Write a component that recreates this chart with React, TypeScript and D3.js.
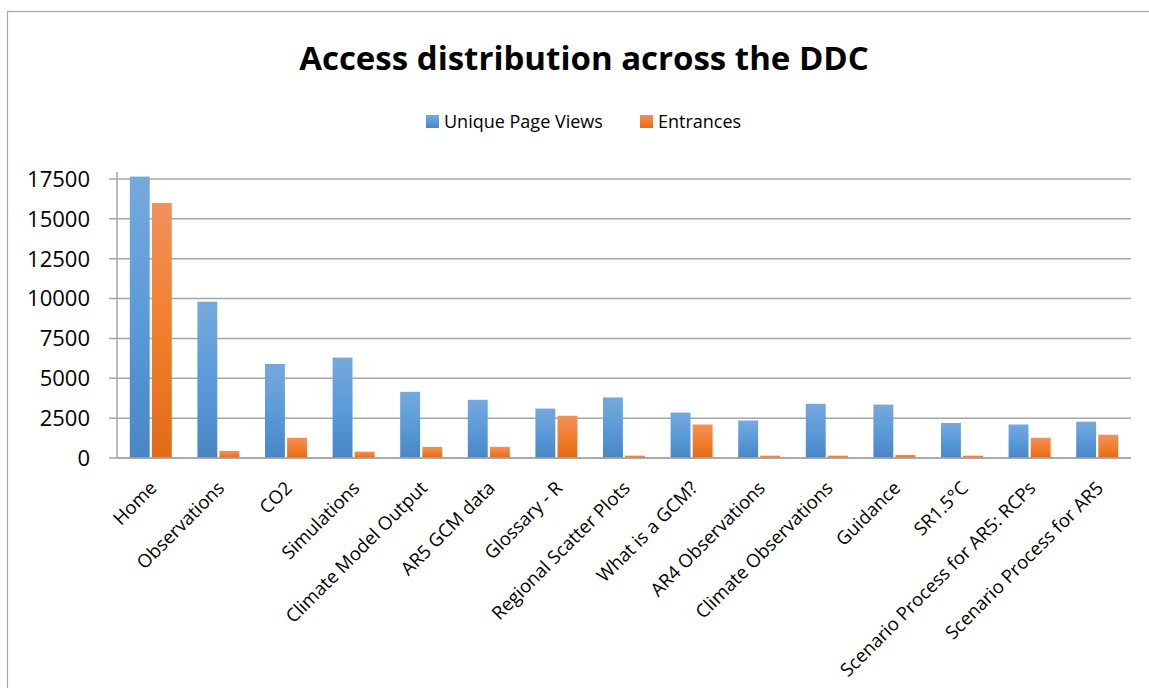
import React from "react";
import * as d3 from "d3";

const categories = [
  "Home",
  "Observations",
  "CO2",
  "Simulations",
  "Climate Model Output",
  "AR5 GCM data",
  "Glossary - R",
  "Regional Scatter Plots",
  "What is a GCM?",
  "AR4 Observations",
  "Climate Observations",
  "Guidance",
  "SR1.5°C",
  "Scenario Process for AR5: RCPs",
  "Scenario Process for AR5",
];
const uniquePageViews = [17650, 9800, 5900, 6300, 4150, 3650, 3100, 3800, 2850, 2350, 3400, 3350, 2200, 2100, 2280];
const entrances = [16000, 450, 1270, 400, 700, 700, 2650, 150, 2100, 150, 150, 200, 150, 1270, 1460];
const yTicks = [0, 2500, 5000, 7500, 10000, 12500, 15000, 17500];
const seriesNames = ["Unique Page Views", "Entrances"];
const title = "Access distribution across the DDC";

const W = 1149;
const H = 688;
const FONT = "'Open Sans', 'Noto Sans', sans-serif";

export default function App() {
  const left = 117;
  const right = 1131;
  const top = 179;
  const bottom = 458;

  const x = d3.scaleBand<string>().domain(categories).range([left, right]).paddingInner(0).paddingOuter(0);
  const inner = d3.scaleBand<string>().domain(seriesNames).range([12.8, x.bandwidth() - 12.8]).paddingInner(0.1);
  const y = d3.scaleLinear().domain([0, 17500]).range([bottom, top]);

  const series = [
    { name: seriesNames[0], values: uniquePageViews, fill: "url(#gBlue)" },
    { name: seriesNames[1], values: entrances, fill: "url(#gOrange)" },
  ];

  return (
    <svg width={W} height={H} style={{ position: "absolute", left: 0, top: 0, background: "#fff" }}>
      <defs>
        <linearGradient id="gBlue" x1="0" y1="0" x2="0" y2="1">
          <stop offset="0%" stopColor="#75A9DC" />
          <stop offset="50%" stopColor="#5B9BD9" />
          <stop offset="100%" stopColor="#4886C4" />
        </linearGradient>
        <linearGradient id="gOrange" x1="0" y1="0" x2="0" y2="1">
          <stop offset="0%" stopColor="#F1915C" />
          <stop offset="50%" stopColor="#F27E2C" />
          <stop offset="100%" stopColor="#E26B1A" />
        </linearGradient>
      </defs>
      <rect x={7.5} y={11.5} width={1200} height={800} fill="#fff" stroke="#a6a6a6" strokeWidth={1.2} />

      <text x={584} y={70} textAnchor="middle" fontFamily={FONT} fontWeight="bold" fontSize={33} fill="#000">
        {title}
      </text>

      {/* legend */}
      <g fontFamily={FONT} fontSize={18} fill="#000">
        <rect x={426} y={115} width={13} height={13} fill="url(#gBlue)" />
        <text x={444} y={128}>{seriesNames[0]}</text>
        <rect x={640} y={115} width={13} height={13} fill="url(#gOrange)" />
        <text x={658} y={128}>{seriesNames[1]}</text>
      </g>

      {/* gridlines and y ticks */}
      {yTicks.map((t) => (
        <g key={t}>
          <line x1={109} x2={right} y1={y(t)} y2={y(t)} stroke="#a6a6a6" strokeWidth={1.5} />
          <text x={90} y={y(t)} dy="0.36em" textAnchor="end" fontFamily={FONT} fontSize={22} fill="#000">
            {t}
          </text>
        </g>
      ))}
      <line x1={left} x2={left} y1={172} y2={bottom} stroke="#a6a6a6" strokeWidth={1.5} />

      {/* bars */}
      {series.map((s) => (
        <g key={s.name}>
          {categories.map((c, i) => (
            <rect
              key={c}
              x={(x(c) as number) + (inner(s.name) as number)}
              y={y(s.values[i])}
              width={inner.bandwidth()}
              height={bottom - y(s.values[i])}
              fill={s.fill}
            />
          ))}
        </g>
      ))}
      <line x1={left} x2={right} y1={bottom} y2={bottom} stroke="#a6a6a6" strokeWidth={1.5} />

      {/* x labels */}
      {categories.map((c) => {
        const cx = (x(c) as number) + x.bandwidth() / 2;
        return (
          <text
            key={c}
            transform={`translate(${cx - 2},${480}) rotate(-45)`}
            textAnchor="end"
            dy="0.7em"
            fontFamily={FONT}
            fontSize={18.5}
            fill="#000"
          >
            {c}
          </text>
        );
      })}
    </svg>
  );
}
